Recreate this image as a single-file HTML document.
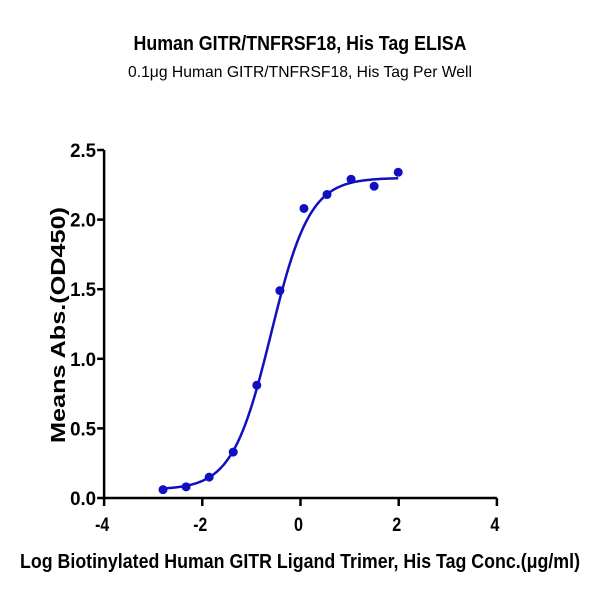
<!DOCTYPE html>
<html><head><meta charset="utf-8"><style>
body{margin:0;background:#fff;width:600px;height:600px;overflow:hidden;font-family:"Liberation Sans",sans-serif}
</style></head><body>
<svg id="c" width="600" height="600" xmlns="http://www.w3.org/2000/svg" font-family="Liberation Sans, sans-serif">
<text x="300" y="50" text-anchor="middle" font-size="20" font-weight="bold" textLength="333" lengthAdjust="spacingAndGlyphs">Human GITR/TNFRSF18, His Tag ELISA</text>
<text x="300" y="77" text-anchor="middle" font-size="16" textLength="344" lengthAdjust="spacingAndGlyphs">0.1μg Human GITR/TNFRSF18, His Tag Per Well</text>
<text transform="translate(65,325) rotate(-90)" text-anchor="middle" font-size="20" font-weight="bold" textLength="236" lengthAdjust="spacingAndGlyphs">Means Abs.(OD450)</text>
<text x="300" y="568" text-anchor="middle" font-size="20" font-weight="bold" textLength="560" lengthAdjust="spacingAndGlyphs">Log Biotinylated Human GITR Ligand Trimer, His Tag Conc.(μg/ml)</text>
<g id="axes"></g><g id="plot"></g>
</svg>
<script>
const xTicks=[-4,-2,0,2,4];
const yTicks=[0.0,0.5,1.0,1.5,2.0,2.5];
const yTickLabels=["0.0","0.5","1.0","1.5","2.0","2.5"];
const logConc=[-2.8,-2.33,-1.86,-1.37,-0.89,-0.42,0.07,0.54,1.03,1.5,1.99];
const absVals=[0.06,0.08,0.15,0.33,0.81,1.49,2.08,2.18,2.29,2.24,2.34];
const fitParams=[0.06,2.30,-0.6,1.1]; // bottom, top, logEC50, hill
const NS="http://www.w3.org/2000/svg";
const X=v=>300.5+v*49.1, Y=v=>498-v*139.2;
function mk(t,a,p){const e=document.createElementNS(NS,t);for(const k in a)e.setAttribute(k,a[k]);p.appendChild(e);return e;}
const ax=document.getElementById('axes'), pl=document.getElementById('plot');
let l=mk('line',{x1:X(-4),x2:X(4),y1:Y(0),y2:Y(0),stroke:'#000','stroke-width':2.5},ax);


l=mk('line',{x1:X(-4),x2:X(-4),y1:Y(0)+1,y2:Y(2.5),stroke:'#000','stroke-width':2.5},ax);


xTicks.forEach(v=>{
 const t=mk('line',{x1:X(v),x2:X(v),y1:Y(0),y2:Y(0)+8,stroke:'#000','stroke-width':2.5},ax);
 
 
 const s=mk('text',{x:X(v)-2,y:Y(0)+33,'text-anchor':'middle','font-size':19,'font-weight':'bold',textLength:v<0?14:9,lengthAdjust:'spacingAndGlyphs'},ax);
 s.textContent=String(v);
 
 
});
yTicks.forEach((v,i)=>{
 const t=mk('line',{x1:X(-4)-7,x2:X(-4),y1:Y(v),y2:Y(v),stroke:'#000','stroke-width':2.5},ax);
 
 
 const s=mk('text',{x:X(-4)-8,y:Y(v)+7,'text-anchor':'end','font-size':19,'font-weight':'bold',textLength:26,lengthAdjust:'spacingAndGlyphs'},ax);
 s.textContent=yTickLabels[i];
 
 
});
const [b,tp,ec,h]=fitParams;
let d='';
const x0=logConc[0],x1=logConc[logConc.length-1];
for(let i=0;i<=200;i++){const x=x0+(x1-x0)*i/200;const y=b+(tp-b)/(1+Math.pow(10,(ec-x)*h));d+=(i?'L':'M')+X(x).toFixed(2)+','+Y(y).toFixed(2);}
const c=mk('path',{d:d,fill:'none',stroke:'#1010c0','stroke-width':2.5},pl);


logConc.forEach((x,i)=>{
 const p=mk('circle',{cx:X(x),cy:Y(absVals[i]),r:4.5,fill:'#1010c0'},pl);
 
 
});
</script>
</body></html>
